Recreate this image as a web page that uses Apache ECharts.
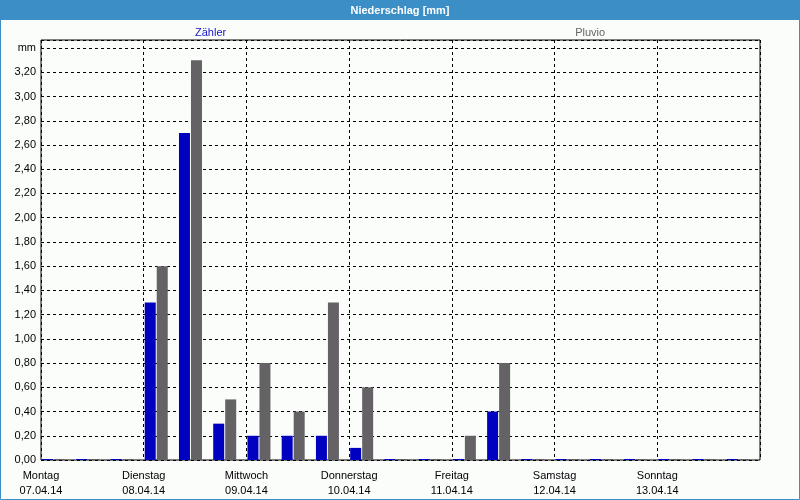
<!DOCTYPE html>
<html><head><meta charset="utf-8">
<script src="https://cdn.jsdelivr.net/npm/echarts@6/dist/echarts.min.js"></script>
<style>html,body{margin:0;padding:0;background:#fff}#c{width:800px;height:500px}</style>
</head><body><div id="c"></div>
<script>
// 8-hour slots, 3 per day
const slots = [
  '07.04.14 00:00','07.04.14 08:00','07.04.14 16:00',
  '08.04.14 00:00','08.04.14 08:00','08.04.14 16:00',
  '09.04.14 00:00','09.04.14 08:00','09.04.14 16:00',
  '10.04.14 00:00','10.04.14 08:00','10.04.14 16:00',
  '11.04.14 00:00','11.04.14 08:00','11.04.14 16:00',
  '12.04.14 00:00','12.04.14 08:00','12.04.14 16:00',
  '13.04.14 00:00','13.04.14 08:00','13.04.14 16:00'
];
const zaehler = [0,0,0, 1.3,2.7,0.3, 0.2,0.2,0.2, 0.1,0,0, 0,0.4,0, 0,0,0, 0,0,0];
const pluvio  = [0,0,0, 1.6,3.3,0.5, 0.8,0.4,1.3, 0.6,0,0, 0.2,0.8,0, 0,0,0, 0,0,0];
const dayNames = ['Montag','Dienstag','Mittwoch','Donnerstag','Freitag','Samstag','Sonntag'];
const dayDates = ['07.04.14','08.04.14','09.04.14','10.04.14','11.04.14','12.04.14','13.04.14'];
const yUnitLabel = 'mm';
const yUnitAt = 3.4;

const FONT = '"Liberation Sans", Arial, sans-serif';
const chart = echarts.init(document.getElementById('c'), null, {renderer: 'canvas'});
chart.setOption({
  animation: false,
  backgroundColor: '#fbfdfb',
  textStyle: {fontFamily: FONT},
  graphic: [
    {type: 'rect', left: 0, top: 0, z: -10, silent: true,
     shape: {x: 0.5, y: 0.5, width: 799, height: 499},
     style: {fill: '#fbfdfb', stroke: '#3b8fc6', lineWidth: 1}},
    {type: 'rect', left: 0, top: 0, z: -9, silent: true,
     shape: {x: 0, y: 0, width: 800, height: 20},
     style: {fill: '#3b8fc6'}}
  ],
  title: {
    text: 'Niederschlag [mm]', left: 'center', top: 4, padding: 0,
    textStyle: {color: '#ffffff', fontSize: 11, fontWeight: 'bold', fontFamily: FONT, lineHeight: 14}
  },
  legend: {
    left: 185, top: 24, itemGap: 344, itemWidth: 0, itemHeight: 14, padding: [2, 5],
    icon: 'rect', itemStyle: {opacity: 0}, selectedMode: false,
    textStyle: {fontSize: 11, fontFamily: FONT},
    data: [
      {name: 'Zähler', textStyle: {color: '#1414c8'}},
      {name: 'Pluvio', textStyle: {color: '#646464'}}
    ]
  },
  grid: {left: 41, right: 40, top: 40, bottom: 40, show: true,
         borderColor: '#000', borderWidth: 1, backgroundColor: 'transparent'},
  xAxis: [
    {type: 'category', data: slots, boundaryGap: true, position: 'bottom',
     axisLine: {show: false}, axisTick: {show: false}, axisLabel: {show: false},
     splitLine: {show: false}},
    {type: 'value', min: 0, max: 7, interval: 1, position: 'bottom',
     axisLine: {show: false}, axisTick: {show: false},
     splitLine: {show: true, lineStyle: {color: '#000', type: [3, 3], width: 1}},
     axisLabel: {
       margin: 8, color: '#000', fontSize: 11, fontFamily: FONT, lineHeight: 15,
       showMaxLabel: false,
       formatter: function (v) {
         const i = Math.round(v);
         if (i < 0 || i >= dayNames.length) return '';
         return dayNames[i] + '\n' + dayDates[i];
       }
     }}
  ],
  yAxis: {
    type: 'value', min: 0, max: 3.4667, interval: 0.2,
    axisLine: {show: false}, axisTick: {show: false},
    splitLine: {show: true, lineStyle: {color: '#000', type: [3, 3], width: 1}},
    axisLabel: {
      margin: 5, color: '#000', fontSize: 11, fontFamily: FONT,
      formatter: function (v) {
        if (Math.abs(v - yUnitAt) < 1e-6) return yUnitLabel;
        if (v > yUnitAt) return '';
        return v.toFixed(2).replace('.', ',');
      }
    }
  },
  series: [
    {name: 'Zähler', type: 'bar', xAxisIndex: 0, data: zaehler,
     barWidth: 11, barGap: '9.09%', barMinHeight: 1,
     itemStyle: {color: '#0000c0'}},
    {name: 'Pluvio', type: 'bar', xAxisIndex: 0, data: pluvio,
     barWidth: 11, barGap: '9.09%', barMinHeight: 1,
     itemStyle: {color: '#646264'}},
    {name: '', type: 'bar', xAxisIndex: 0, data: [], barWidth: 8.2, barGap: '9.09%', silent: true}
  ]
});
</script></body></html>
